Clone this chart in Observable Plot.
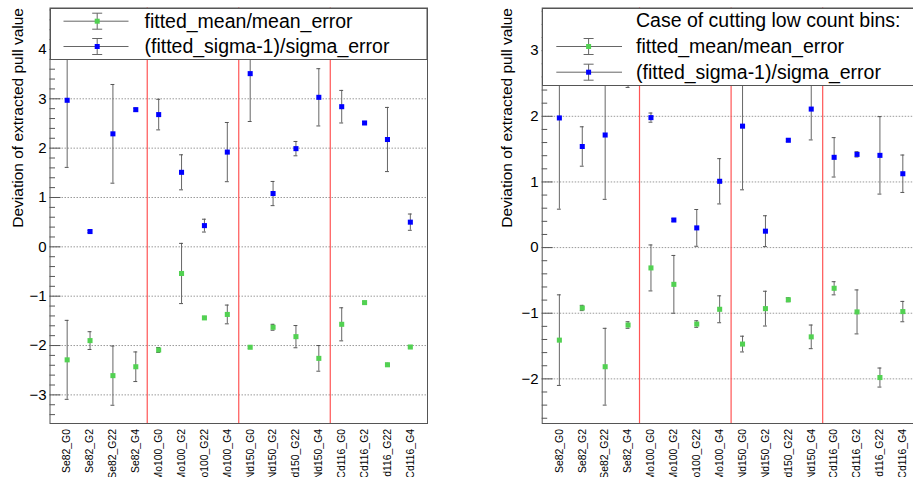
<!DOCTYPE html>
<html>
<head>
<meta charset="utf-8">
<script src="https://cdn.jsdelivr.net/npm/d3@7"></script>
<script src="https://cdn.jsdelivr.net/npm/@observablehq/plot@0.6"></script>
<style>
  body { margin: 0; background: white; }
  #wrap { position: relative; width: 913px; height: 480px; overflow: hidden; background: white;
          font-family: "Liberation Sans", Arial, Helvetica, sans-serif; }
  .panel { position: absolute; top: 0; }
  .leg { position: absolute; overflow: visible; }
</style>
</head>
<body>
<div id="wrap"></div>
<script>
// ---------------- data ----------------
const categories = ["Se82_G0","Se82_G2","Se82_G22","Se82_G4",
                    "Mo100_G0","Mo100_G2","Mo100_G22","Mo100_G4",
                    "Nd150_G0","Nd150_G2","Nd150_G22","Nd150_G4",
                    "Cd116_G0","Cd116_G2","Cd116_G22","Cd116_G4"];

// left panel (all bins)
const meanLeft     = [-2.29, -1.90, -2.61, -2.43, -2.09, -0.54, -1.44, -1.37, -2.035, -1.63, -1.82, -2.26, -1.57, -1.13, -2.39, -2.03];
const meanErrLeft  = [ 0.80,  0.18,  0.60,  0.30,  0.05,  0.61,  0.03,  0.19,  0.02,  0.06,  0.225, 0.26,  0.335, 0.02,  0.03,  0.02];
const sigmaLeft    = [ 2.97,  0.31,  2.29,  2.78,  2.68,  1.51,  0.43,  1.92,  3.51,  1.08,  1.99,  3.03,  2.84,  2.51,  2.175, 0.50];
const sigmaErrLeft = [ 1.36,  0.02,  1.00,  0.03,  0.31,  0.355, 0.13,  0.60,  0.97,  0.245, 0.145, 0.58,  0.33,  0.03,  0.65,  0.165];

// right panel (cutting low count bins)
const meanRight     = [-1.41, -0.92, -1.815, -1.18, -0.31, -0.56, -1.165, -0.94, -1.47, -0.93, -0.795, -1.36, -0.62, -0.98, -1.98, -0.975];
const meanErrRight  = [ 0.69,  0.04,  0.585,  0.05,  0.35,  0.44,  0.05,   0.205, 0.12,  0.265, 0.03,   0.18,  0.10,  0.335, 0.145, 0.155];
const sigmaRight    = [ 1.975, 1.54,  1.715,  2.52,  1.98,  0.42,  0.30,   1.01,  1.85,  0.25,  1.635,  2.11,  1.375, 1.42,  1.405, 1.125];
const sigmaErrRight = [ 1.39,  0.30,  0.98,   0.08,  0.07,  0.02,  0.28,   0.345, 0.97,  0.235, 0.02,   0.47,  0.30,  0.04,  0.59,  0.285];

const yTitle = "Deviation of extracted pull value";
const legendHeaderRight = "Case of cutting low count bins:";
const seriesNames = ["fitted_mean/mean_error", "(fitted_sigma-1)/sigma_error"];
const seriesColors = ["#52d152", "#0000ff"];

// ---------------- helpers ----------------
const FONT = '"Liberation Sans", Arial, Helvetica, sans-serif';
const H = 477;
const marginTop = 7.5, marginBottom = 54;
const xDomain = [-0.75, 15.75];

// group boundaries (where the nucleus prefix changes)
const prefix = c => c.split("_")[0];
const boundaries = categories.slice(1).map((c, k) => prefix(c) !== prefix(categories[k]) ? k + 0.5 : null).filter(d => d !== null);

const fmt = d => d < 0 ? "\u2212" + (-d) : String(d);

function panel({width, marginLeft, marginRight, yDomain, mean, meanErr, sigma, sigmaErr, titleDx}) {
  const frameW = width - marginLeft - marginRight;
  const major = d3.range(Math.ceil(yDomain[0]), Math.floor(yDomain[1]) + 1);
  const minor = d3.range(Math.ceil(yDomain[0] * 5), Math.floor(yDomain[1] * 5) + 1).filter(k => k % 5 !== 0).map(k => k / 5);
  const rowsM = categories.map((c, i) => ({i, v: mean[i], e: meanErr[i]}));
  const rowsS = categories.map((c, i) => ({i, v: sigma[i], e: sigmaErr[i]}));
  const capW = 0.085;
  const errMarks = (rows) => [
    Plot.ruleX(rows, {x: "i", y1: d => d.v - d.e, y2: d => d.v + d.e, stroke: "#666", strokeWidth: 1}),
    Plot.ruleY(rows, {y: d => d.v + d.e, x1: d => d.i - capW, x2: d => d.i + capW, stroke: "#555", strokeWidth: 1}),
    Plot.ruleY(rows, {y: d => d.v - d.e, x1: d => d.i - capW, x2: d => d.i + capW, stroke: "#555", strokeWidth: 1})
  ];
  return Plot.plot({
    width, height: H, marginLeft, marginRight, marginTop, marginBottom,
    style: {fontFamily: FONT, fontSize: "15px", background: "white", overflow: "hidden"},
    x: {type: "linear", domain: xDomain, axis: null},
    y: {domain: yDomain, axis: null},
    marks: [
      Plot.ruleY(major, {y: d => d, stroke: "#9a9a9a", strokeDasharray: "1.5,1.5"}),
      Plot.ruleX(boundaries, {x: d => d, stroke: "#ff5555", strokeWidth: 1.2}),
      ...errMarks(rowsM),
      ...errMarks(rowsS),
      Plot.dot(rowsM, {x: "i", y: "v", symbol: "square", r: 2.85, fill: seriesColors[0], stroke: null}),
      Plot.dot(rowsS, {x: "i", y: "v", symbol: "square", r: 2.85, fill: seriesColors[1], stroke: null}),
      Plot.frame({stroke: "#555"}),
      Plot.ruleY(major, {y: d => d, insetRight: frameW - 11, stroke: "#555"}),
      Plot.ruleY(minor, {y: d => d, insetRight: frameW - 5.5, stroke: "#555"}),
      Plot.text(major, {y: d => d, text: fmt, frameAnchor: "left", textAnchor: "end", dx: -3.5, fontSize: 15, fill: "black"}),
      Plot.text(categories, {x: (d, i) => i, text: d => d, frameAnchor: "bottom", rotate: -90, textAnchor: "end",
                             lineAnchor: "middle", dy: 5.5, fontSize: 10.4, fill: "black"}),
      Plot.text([yTitle], {text: d => d, frameAnchor: "top-left", rotate: -90, textAnchor: "end",
                           lineAnchor: "middle", dx: titleDx, fontSize: 15.5, fill: "black"})
    ]
  });
}

function legend(container, {left, top, width, height, header, rowsY, symX, lineX0, lineX1, textX}) {
  const svg = d3.select(container).append("svg")
    .attr("class", "leg")
    .style("left", left + "px").style("top", top + "px")
    .attr("width", width).attr("height", height)
    .style("font-family", FONT);
  svg.append("rect").attr("x", 0.5).attr("y", 0.5).attr("width", width - 1).attr("height", height - 1)
    .attr("fill", "white").attr("stroke", "#555");
  if (header) {
    svg.append("text").attr("x", textX).attr("y", rowsY[0]).attr("dy", "0.35em")
      .attr("font-size", 19.5).text(header);
  }
  const ys = header ? rowsY.slice(1) : rowsY;
  seriesNames.forEach((name, k) => {
    const y = ys[k];
    const g = svg.append("g").attr("stroke", "#666").attr("fill", "none");
    g.append("line").attr("x1", lineX0).attr("x2", lineX1).attr("y1", y).attr("y2", y);
    g.append("line").attr("x1", symX).attr("x2", symX).attr("y1", y - 8).attr("y2", y + 8);
    g.append("line").attr("x1", symX - 5).attr("x2", symX + 5).attr("y1", y - 8).attr("y2", y - 8);
    g.append("line").attr("x1", symX - 5).attr("x2", symX + 5).attr("y1", y + 8).attr("y2", y + 8);
    svg.append("rect").attr("x", symX - 2.5).attr("y", y - 2.5).attr("width", 5).attr("height", 5)
      .attr("fill", seriesColors[k]);
    svg.append("text").attr("x", textX).attr("y", y).attr("dy", "0.35em")
      .attr("font-size", 19.5).text(name);
  });
}

// ---------------- build ----------------
const wrap = document.getElementById("wrap");

const left = panel({width: 456, marginLeft: 49.5, marginRight: 29, yDomain: [-3.58, 4.84],
  mean: meanLeft, meanErr: meanErrLeft, sigma: sigmaLeft, sigmaErr: sigmaErrLeft, titleDx: -32});
left.classList.add("panel");
left.style.left = "0px";
wrap.appendChild(left);

const right = panel({width: 470, marginLeft: 81.7, marginRight: 10.5, yDomain: [-2.68, 3.65],
  mean: meanRight, meanErr: meanErrRight, sigma: sigmaRight, sigmaErr: sigmaErrRight, titleDx: -34.7});
right.classList.add("panel");
right.style.left = "460px";
wrap.appendChild(right);

legend(wrap, {left: 49.5, top: 7.5, width: 377.5, height: 52, header: null,
  rowsY: [13.2, 38.5], symX: 47.2, lineX0: 13.5, lineX1: 78.5, textX: 94.5});
legend(wrap, {left: 541.7, top: 7.5, width: 400, height: 78, header: legendHeaderRight,
  rowsY: [12.5, 38.5, 64.2], symX: 46.6, lineX0: 14.3, lineX1: 80, textX: 94});
</script>
</body>
</html>
